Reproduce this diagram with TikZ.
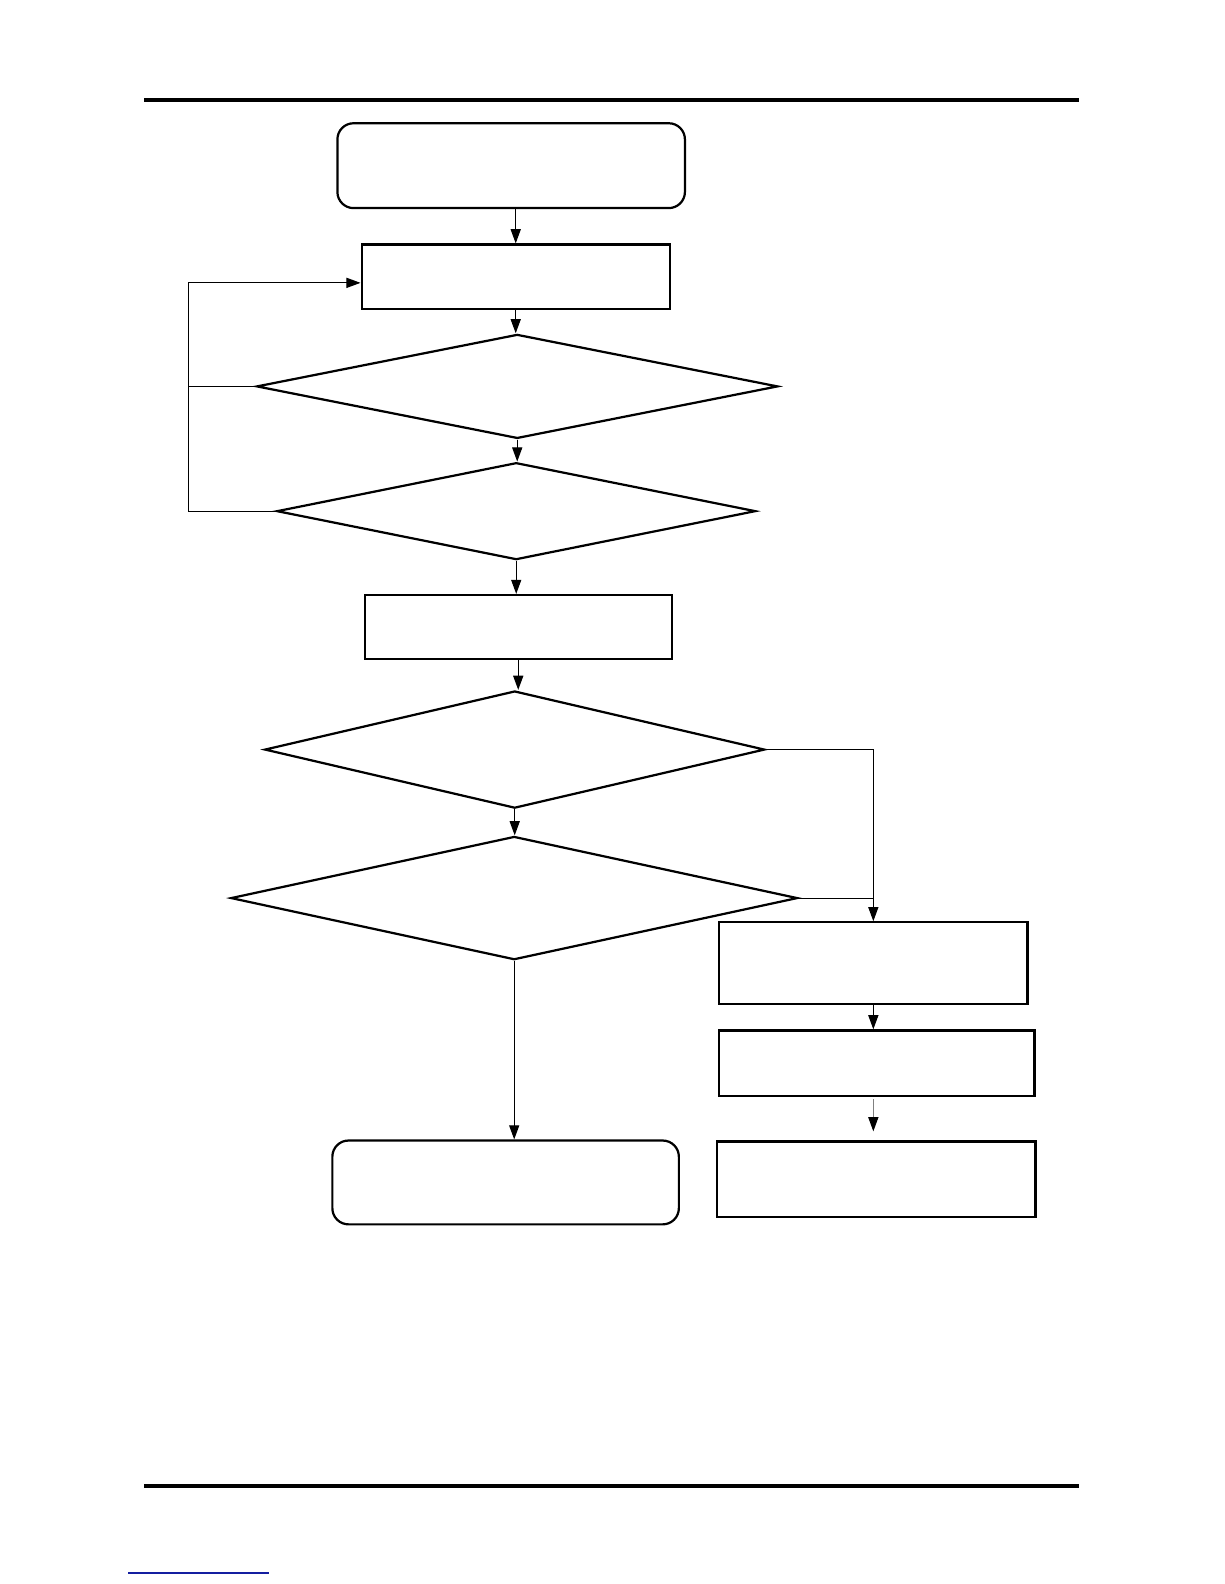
\documentclass[tikz,border=0pt]{standalone}
\usetikzlibrary{shapes.geometric,arrows.meta,calc}
\begin{document}
\begin{tikzpicture}[x={(0.5pt,0)},y={(0,-0.5pt)},
  shapeline/.style={draw=black,line width=1.1pt,inner sep=0pt},
  procbox/.style={shapeline,rectangle},
  termbox/.style={shapeline,rectangle,rounded corners=8pt},
  decision/.style={shapeline,diamond},
  conn/.style={draw=black,line width=0.55pt},
  arr/.style={conn,-{Triangle[length=7pt,width=5pt]}},
  rule/.style={line width=1.6pt}]
\useasboundingbox (0,0) rectangle (1212,1568);
% header/footer rules
\coordinate (tl) at (143,99);
\coordinate (tr) at (1068,99);
\coordinate (bl) at (143,1471);
\coordinate (br) at (1068,1471);
\draw[rule] (tl) -- (tr);
\draw[rule] (bl) -- (br);
\coordinate (ll) at (127,1557);
\coordinate (lr) at (266,1557);
\draw[color={rgb,255:red,20;green,30;blue,160},line width=0.7pt] (ll) -- (lr);
% nodes
\node[termbox,minimum width=172pt,minimum height=42pt] (start) at (506,164) {};
\node[procbox,minimum width=152.5pt,minimum height=32pt] (box2) at (510.5,274) {};
\node[decision,minimum width=258pt,minimum height=51.5pt] (d1) at (512,382.5) {};
\node[decision,minimum width=237pt,minimum height=48pt] (d2) at (511,506) {};
\node[procbox,minimum width=152pt,minimum height=31.5pt] (box3) at (513,620.5) {};
\node[decision,minimum width=247.5pt,minimum height=58pt] (d3) at (509.5,742) {};
\node[decision,minimum width=280.5pt,minimum height=61pt] (d4) at (509,889) {};
\node[termbox,minimum width=171.5pt,minimum height=41.5pt] (endb) at (500.5,1170.5) {};
\node[procbox,minimum width=152.5pt,minimum height=40.5pt] (box4) at (864.5,953.5) {};
\node[procbox,minimum width=156pt,minimum height=32.5pt] (box5) at (868,1052.5) {};
\node[procbox,minimum width=157.5pt,minimum height=37.5pt] (box6) at (867.5,1167.5) {};
\coordinate (fb) at (187,280);
% main flow
\draw[arr] (box2.north |- start.south) -- (box2.north);
\draw[arr] (box2.south) -- (box2.south |- d1.north);
\draw[arr] (d1.south) -- (d1.south |- d2.north);
\draw[arr] (d2.south) -- (d2.south |- box3.north);
\draw[arr] (box3.south) -- (box3.south |- d3.north);
\draw[arr] (d3.south) -- (d3.south |- d4.north);
\draw[arr] (d4.south) -- (d4.south |- endb.north);
% feedback loop
\draw[arr] (d2.west) -- (fb |- d2.west) -- (fb) -- ($(box2.west)+(0,6)$);
\draw[conn] (d1.west) -- (fb |- d1.west);
% right branch
\draw[arr] (d3.east) -| (box4.north);
\draw[conn] (d4.east) -- (box4.north |- d4.east);
\draw[arr] (box4.south) -- (box4.south |- box5.north);
\draw[draw=gray,line width=0.5pt,shorten >=4.5pt,
      arrows={-{Triangle[length=7pt,width=5pt,fill=black,color=black]}}]
  ($(box4.south |- box5.south)+(0,2)$) -- (box4.south |- box6.north);
\end{tikzpicture}
\end{document}
